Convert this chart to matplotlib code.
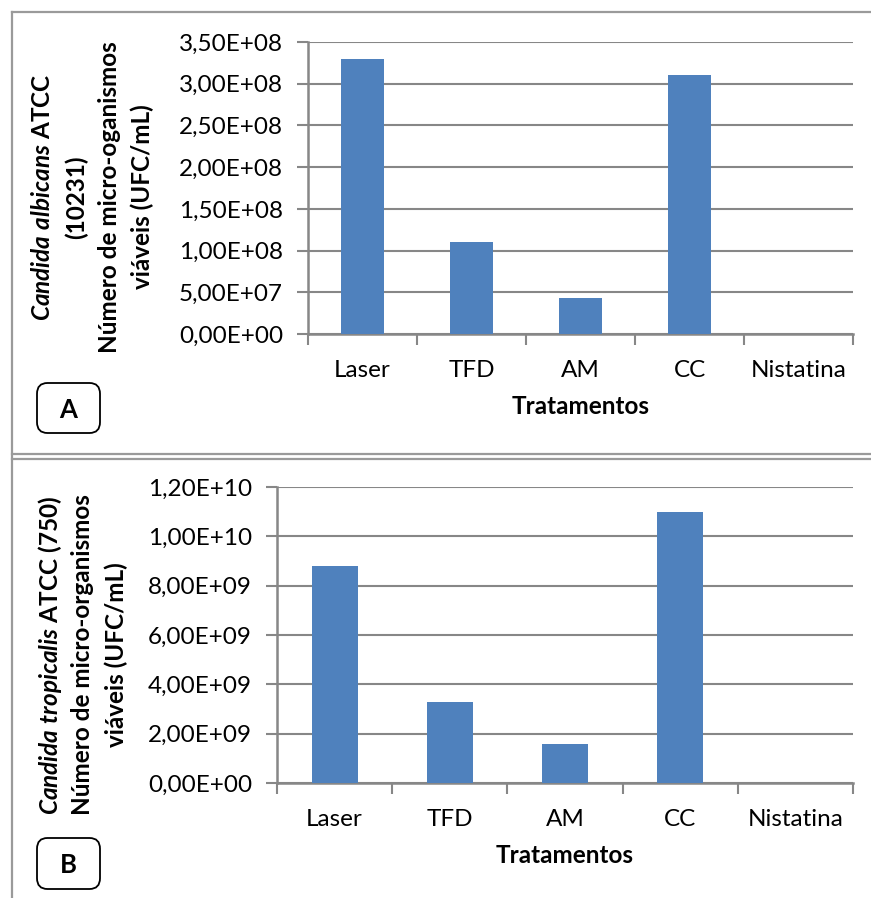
import matplotlib
matplotlib.use("Agg")
import numpy as np
from matplotlib import pyplot as plt
from matplotlib.lines import Line2D
from matplotlib.patches import FancyBboxPatch
from matplotlib.ticker import FuncFormatter

# ── data ─────────────────────────────────────────────────────────────────────
categories = ["Laser", "TFD", "AM", "CC", "Nistatina"]
albicans   = [3.30e8, 1.10e8, 4.3e7, 3.11e8, 0.0]
tropicalis = [8.8e9, 3.3e9, 1.6e9, 1.1e10, 0.0]
ticks_a    = [0, 5e7, 1e8, 1.5e8, 2e8, 2.5e8, 3e8, 3.5e8]
ticks_b    = [0, 2e9, 4e9, 6e9, 8e9, 1e10, 1.2e10]

FONT = "Lato"
plt.rcParams["font.family"] = [FONT, "DejaVu Sans"]
plt.rcParams["mathtext.fontset"] = "custom"
plt.rcParams["mathtext.it"] = f"{FONT}:style=italic:weight=bold"
plt.rcParams["mathtext.rm"] = f"{FONT}:weight=bold"
plt.rcParams["mathtext.bf"] = f"{FONT}:weight=bold"

BAR = "#4F81BD"
GRID = "#878787"
W, H = 871, 898
FS = 17.5
LFS = 17.5


def px(x0, y0, x1, y1):
    # pixel box (top-left origin) -> figure fraction rect
    return [x0 / W, 1 - y1 / H, (x1 - x0) / W, (y1 - y0) / H]


def sci_fmt(v, pos):
    return f"{v:.2E}".replace(".", ",")


def draw_panel(ax, values, yticks):
    x = np.arange(len(categories))
    ax.bar(x, values, width=0.4, color=BAR, zorder=3)
    ax.set_xlim(-0.5, len(categories) - 0.5)
    ax.set_ylim(0, yticks[-1])
    ax.set_yticks(yticks)
    ax.yaxis.set_major_formatter(FuncFormatter(sci_fmt))
    ax.set_xticks(np.arange(len(categories) + 1) - 0.5)
    ax.set_xticklabels([])
    ax.set_xticks(x, minor=True)
    ax.set_xticklabels(categories, minor=True)
    ax.tick_params(axis="x", which="minor", length=0, labelsize=FS, pad=19)
    ax.tick_params(axis="x", which="major", length=8, width=1.5, color=GRID)
    ax.tick_params(axis="y", length=8, width=1.5, color=GRID, labelsize=FS, pad=10)
    ax.grid(axis="y", color=GRID, linewidth=1.5, zorder=0)
    for s in ["top", "right"]:
        ax.spines[s].set_visible(False)
    for s in ["left", "bottom"]:
        ax.spines[s].set_color(GRID)
        ax.spines[s].set_linewidth(1.8)
    ax.set_xlabel("Tratamentos", fontsize=FS, fontweight="bold", labelpad=10)


fig = plt.figure(figsize=(W / 100, H / 100), dpi=100)

ax_a = fig.add_axes(px(308, 42, 853, 334))
draw_panel(ax_a, albicans, ticks_a)
ax_b = fig.add_axes(px(277, 487, 853, 783))
draw_panel(ax_b, tropicalis, ticks_b)

# y labels (vertical, one text per line so every line stays bold)
lab_a = [r"$\mathit{Candida\ albicans}\ \mathrm{ATCC}$", "(10231)",
         "Número de micro-oganismos", "viáveis (UFC/mL)"]
lab_b = [r"$\mathit{Candida\ tropicalis}\ \mathrm{ATCC\ (750)}$",
         "Número de micro-organismos", "viáveis (UFC/mL)"]
for lines, x0, yc in [(lab_a, 43, 197), (lab_b, 50, 655)]:
    for i, line in enumerate(lines):
        fig.text((x0 + 33 * i) / W, 1 - yc / H, line, rotation=90, ha="center", va="center",
                 fontsize=LFS, fontweight="bold")

# panel letters in rounded boxes
for letter, (bx0, by0, bx1, by1) in [("A", (37, 383, 100, 433)), ("B", (37, 838, 100, 889))]:
    r = px(bx0, by0, bx1, by1)
    box = FancyBboxPatch((r[0], r[1]), r[2], r[3], boxstyle="round,pad=0,rounding_size=0.012",
                         transform=fig.transFigure, facecolor="white", edgecolor="black",
                         linewidth=1.3)
    fig.add_artist(box)
    fig.text(r[0] + r[2] / 2, r[1] + r[3] / 2 - 0.002, letter, ha="center", va="center",
             fontsize=FS + 1, fontweight="bold")

# outer frame lines
FRAME = "#9A9A9A"
for (x0, y0, x1, y1) in [(12, 12, W, 12), (12, 12, 12, H), (12, 454, W, 454), (12, 459, W, 459)]:
    fig.add_artist(Line2D([x0 / W, x1 / W], [1 - y0 / H, 1 - y1 / H], color=FRAME,
                          linewidth=1.6, transform=fig.transFigure))

fig.savefig("out.png", dpi=100)
